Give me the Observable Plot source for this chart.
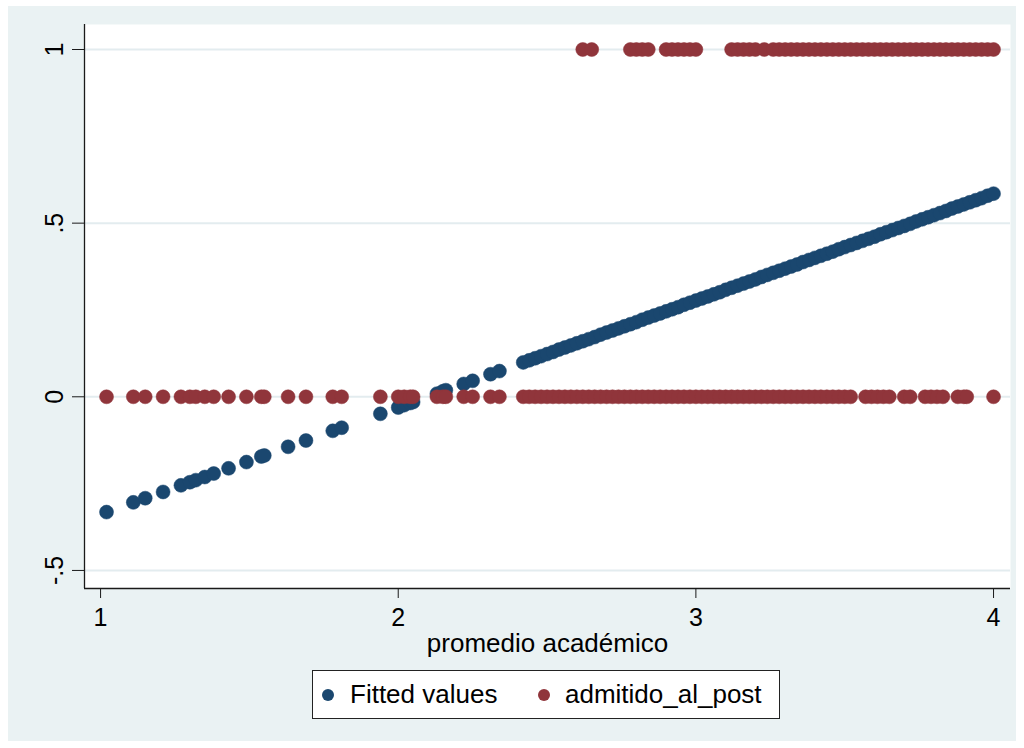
<!DOCTYPE html>
<html>
<head>
<meta charset="utf-8">
<script src="https://cdn.jsdelivr.net/npm/d3@7"></script>
<script src="https://cdn.jsdelivr.net/npm/@observablehq/plot@0.6"></script>
<style>
html, body { margin: 0; padding: 0; background: #ffffff; width: 1024px; height: 748px; overflow: hidden; font-family: "Liberation Sans", Arial, sans-serif; }
#panel { position: absolute; left: 8px; top: 6px; width: 1008px; height: 735px; background: #eaf2f3; }
#chart { position: absolute; left: 0; top: 0; }
#legend { position: absolute; left: 312px; top: 670px; width: 466px; height: 47px; background: #ffffff; border: 1px solid #222; }
.item { position: absolute; top: 0; height: 47px; line-height: 47px; font-size: 26px; color: #000; white-space: nowrap; }
.sw { position: absolute; width: 12px; height: 12px; border-radius: 50%; top: 18px; }
</style>
</head>
<body>
<div id="panel"></div>
<div id="chart"></div>
<div id="legend"></div>
<script>
// ---- data ----
const seriesNames = ["Fitted values", "admitido_al_post"];
const seriesColors = ["#1a476f", "#90353b"];
const xLabel = "promedio académico";

const xTicks = [1, 2, 3, 4];
const xTickLabels = ["1", "2", "3", "4"];
const yTicks = [-0.5, 0, 0.5, 1];
const yTickLabels = ["-.5", "0", ".5", "1"];
const xDomain = [0.946, 4.057];
const yDomain = [-0.552, 1.072];

// GPA of observations with admitido_al_post = 0
const gpaNotAdmitted = [1.02,1.11,1.15,1.21,1.27,1.30,1.32,1.35,1.38,1.43,1.49,1.54,1.55,1.63,1.69,1.78,1.81,1.94,2.00,2.02,2.04,2.05,2.13,2.15,2.16,2.22,2.25,2.31,2.34,
  2.42,2.44,2.46,2.48,2.50,2.52,2.54,2.56,2.58,2.60,2.62,2.64,2.66,2.68,2.70,2.72,2.74,2.76,2.78,2.80,2.82,2.84,2.86,2.88,2.90,2.92,2.94,2.96,2.98,3.00,
  3.02,3.04,3.06,3.08,3.10,3.12,3.14,3.16,3.18,3.20,3.22,3.24,3.26,3.28,3.30,3.32,3.34,3.36,3.38,3.40,3.42,3.44,3.46,3.48,3.50,3.52,
  3.57,3.59,3.61,3.63,3.65,3.70,3.72,3.77,3.79,3.81,3.83,3.88,3.90,3.91,4.00];
const admittedNotValue = 0;

// GPA of observations with admitido_al_post = 1
const gpaAdmitted = [2.62,2.65,2.78,2.80,2.82,2.84,2.90,2.92,2.94,2.96,2.98,3.00,3.12,3.14,3.16,3.18,3.20,3.23,
  3.26,3.28,3.30,3.32,3.34,3.36,3.38,3.40,3.42,3.44,3.46,3.48,3.50,3.52,3.54,3.56,3.58,3.60,3.62,3.64,3.66,3.68,3.70,
  3.72,3.74,3.76,3.78,3.80,3.82,3.84,3.86,3.88,3.90,3.92,3.94,3.96,3.98,4.00];
const admittedValue = 1;

// Fitted values (linear probability model)
const fittedGpa = [1.02,1.11,1.15,1.21,1.27,1.30,1.32,1.35,1.38,1.43,1.49,1.54,1.55,1.63,1.69,1.78,1.81,1.94,2.00,2.02,2.04,2.05,2.13,2.15,2.16,2.22,2.25,2.31,2.34,
  2.42,2.44,2.46,2.48,2.50,2.52,2.54,2.56,2.58,2.60,2.62,2.64,2.66,2.68,2.70,2.72,2.74,2.76,2.78,2.80,2.82,2.84,2.86,2.88,2.90,2.92,2.94,2.96,2.98,3.00,
  3.02,3.04,3.06,3.08,3.10,3.12,3.14,3.16,3.18,3.20,3.22,3.24,3.26,3.28,3.30,3.32,3.34,3.36,3.38,3.40,3.42,3.44,3.46,3.48,3.50,3.52,3.54,3.56,3.58,3.60,
  3.62,3.64,3.66,3.68,3.70,3.72,3.74,3.76,3.78,3.80,3.82,3.84,3.86,3.88,3.90,3.92,3.94,3.96,3.98,4.00];
const fittedValues = [-0.332,-0.304,-0.292,-0.274,-0.255,-0.246,-0.240,-0.231,-0.221,-0.206,-0.188,-0.172,-0.169,-0.144,-0.126,-0.098,-0.089,-0.049,-0.031,-0.024,-0.018,-0.015,0.009,0.016,0.019,0.037,0.046,0.065,0.074,
  0.099,0.105,0.111,0.117,0.123,0.129,0.136,0.142,0.148,0.154,0.160,0.166,0.172,0.179,0.185,0.191,0.197,0.203,0.209,0.215,0.222,0.228,0.234,0.240,0.246,0.252,0.258,0.265,0.271,0.277,
  0.283,0.289,0.295,0.301,0.308,0.314,0.320,0.326,0.332,0.338,0.345,0.351,0.357,0.363,0.369,0.375,0.381,0.388,0.394,0.400,0.406,0.412,0.418,0.425,0.431,0.437,0.443,0.449,0.455,0.461,
  0.468,0.474,0.480,0.486,0.492,0.498,0.505,0.511,0.517,0.523,0.529,0.535,0.542,0.548,0.554,0.560,0.566,0.572,0.579,0.585];

// ---- tables ----
const n = Math.min(fittedGpa.length, fittedValues.length);
const fittedData = fittedGpa.slice(0, n).map((g, i) => ({gpa: g, value: fittedValues[i]}));
const observedData = gpaNotAdmitted.map(g => ({gpa: g, value: admittedNotValue}))
  .concat(gpaAdmitted.map(g => ({gpa: g, value: admittedValue})));

const xFmt = d => xTickLabels[xTicks.indexOf(d)];
const yFmt = d => yTickLabels[yTicks.indexOf(d)];

const chart = Plot.plot({
  width: 1024,
  height: 668,
  marginLeft: 84,
  marginRight: 14,
  marginTop: 24,
  marginBottom: 80,
  style: {background: "transparent", fontFamily: "'Liberation Sans', Arial, sans-serif", fontSize: "25px", color: "#000"},
  x: {domain: xDomain, ticks: xTicks, tickFormat: xFmt},
  y: {domain: yDomain, ticks: yTicks, tickFormat: yFmt},
  marks: [
    Plot.frame({fill: "white", stroke: null}),
    Plot.gridY(yTicks, {stroke: "#e3ecef", strokeOpacity: 1, strokeWidth: 2}),
    Plot.ruleX([xDomain[0]], {stroke: "#1a1a1a", strokeWidth: 1.3}),
    Plot.ruleY([yDomain[0]], {stroke: "#1a1a1a", strokeWidth: 1.3}),
    Plot.axisX(xTicks, {tickSize: 10, tickPadding: 10, fontSize: 25, stroke: "#1a1a1a", tickFormat: xFmt, label: null}),
    Plot.axisY(yTicks, {tickSize: 12, tickPadding: 10, tickRotate: -90, fontSize: 25, stroke: "#1a1a1a", tickFormat: yFmt, label: null}),
    Plot.dot(fittedData, {x: "gpa", y: "value", r: 7, fill: seriesColors[0], stroke: seriesColors[0], strokeWidth: 0.5}),
    Plot.dot(observedData, {x: "gpa", y: "value", r: 7, fill: seriesColors[1], stroke: seriesColors[1], strokeWidth: 0.5}),
    Plot.text([xLabel], {frameAnchor: "bottom", dy: 63, lineAnchor: "bottom", fontSize: 26, fill: "#000"})
  ]
});
document.getElementById("chart").appendChild(chart);

// ---- legend ----
const legend = document.getElementById("legend");
const legendPos = [{dot: 9, text: 37}, {dot: 225, text: 252}];
seriesNames.forEach((name, i) => {
  const sw = document.createElement("div");
  sw.className = "sw";
  sw.style.left = legendPos[i].dot + "px";
  sw.style.background = seriesColors[i];
  legend.appendChild(sw);
  const t = document.createElement("div");
  t.className = "item";
  t.style.left = legendPos[i].text + "px";
  t.textContent = name;
  legend.appendChild(t);
});
</script>
</body>
</html>
